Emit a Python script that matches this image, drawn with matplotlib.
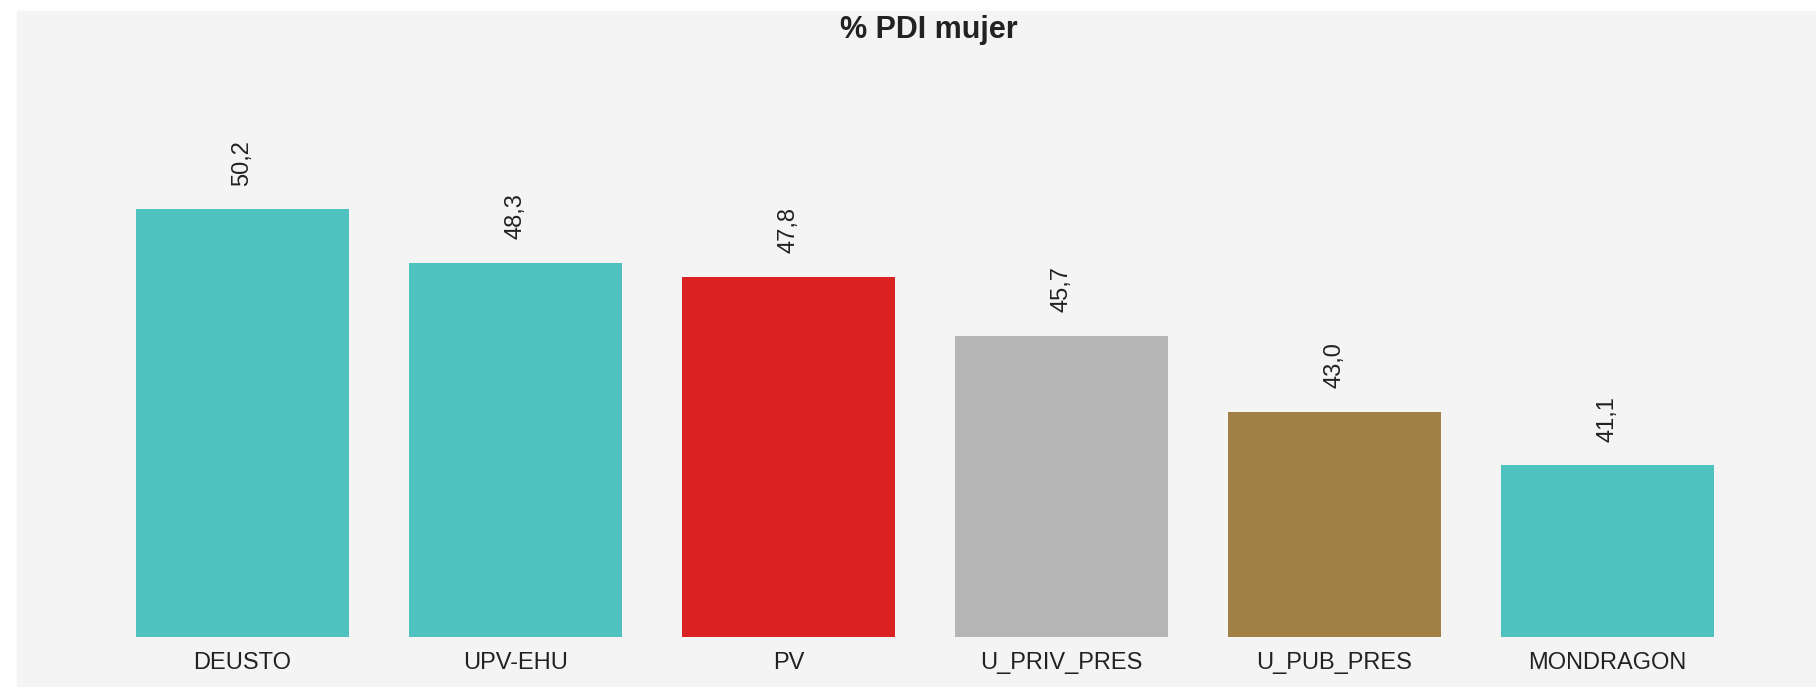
import matplotlib
matplotlib.use("Agg")
import matplotlib.pyplot as plt
from matplotlib.patches import Rectangle

# data
universidades = ['DEUSTO', 'UPV-EHU', 'PV', 'U_PRIV_PRES', 'U_PUB_PRES', 'MONDRAGON']
pct_mujer = [50.2, 48.3, 47.8, 45.7, 43.0, 41.1]
colores = ['#4fc1be', '#4fc1be', '#da2222', '#b5b5b5', '#a08044', '#4fc1be']

plt.rcParams['font.family'] = ['Liberation Sans', 'DejaVu Sans']

W, H = 1816, 687
fig = plt.figure(figsize=(W / 100, H / 100), dpi=100)
fig.patch.set_facecolor('white')

# grey panel behind the plot
fig.patches.append(Rectangle((17 / W, 0), 1 - 17 / W, 1 - 11 / H,
                             transform=fig.transFigure, color='#f4f4f4', zorder=-10))

ax = fig.add_axes([106 / W, 50 / H, 1638 / W, 577 / H])
ax.set_facecolor('none')
ax.set_zorder(1)

x = range(len(universidades))
ax.bar(x, pct_mujer, width=0.78, color=colores)
ax.set_ylim(35, 55.5)
ax.set_xlim(-0.5, len(universidades) - 0.5)

for i, v in zip(x, pct_mujer):
    ax.annotate(f"{v:.1f}".replace('.', ','), (i, v), xytext=(0, 17),
                textcoords='offset points', ha='center', va='bottom',
                rotation=90, fontsize=17, color='#222222')

ax.set_xticks(list(x))
ax.set_xticklabels(universidades, fontsize=17, color='#222222')
ax.tick_params(axis='x', length=0, pad=11)
ax.set_yticks([])
for s in ax.spines.values():
    s.set_visible(False)

fig.text(929 / W, 1 - 38 / H, '% PDI mujer', ha='center', va='baseline',
         fontsize=22, fontweight='bold', color='#222222')

fig.savefig('out.png', dpi=100)
